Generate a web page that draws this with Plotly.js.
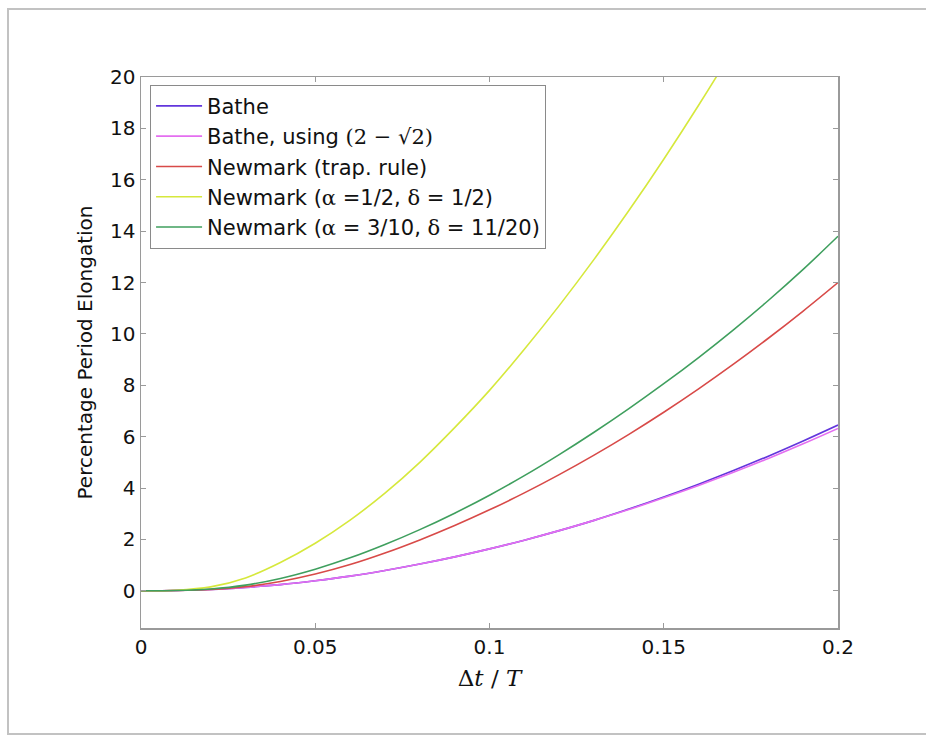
<!DOCTYPE html>
<html>
<head>
<meta charset="utf-8">
<script src="https://cdn.plot.ly/plotly-3.0.1.min.js"></script>
<style>
  html, body { margin: 0; padding: 0; background: #ffffff; overflow: hidden; }
  #wrap { position: relative; width: 926px; height: 737px; overflow: hidden; }
  #chart { position: absolute; left: 0; top: 0; width: 926px; height: 737px; }
  .edge { position: absolute; background: #c2c2c2; pointer-events: none; }
  #eTop { left: 7px; top: 8px; width: 919px; height: 2px; }
  #eLeft { left: 7px; top: 8px; width: 2px; height: 727px; }
  #eBot { left: 7px; top: 733px; width: 919px; height: 2px; }
</style>
</head>
<body>
<div id="wrap">
  <div id="chart"></div>
  <div class="edge" id="eTop"></div>
  <div class="edge" id="eLeft"></div>
  <div class="edge" id="eBot"></div>
</div>
<script>
// x values (Δt/T)
const dtT = [0, 0.01, 0.02, 0.03, 0.04, 0.05, 0.06, 0.07, 0.08, 0.09, 0.10,
             0.11, 0.12, 0.13, 0.14, 0.15, 0.16, 0.17, 0.18, 0.19, 0.20];

const batheVals     = [0, 0.01, 0.05, 0.13, 0.24, 0.39, 0.57, 0.79, 1.04, 1.32, 1.63,
                       1.97, 2.34, 2.74, 3.18, 3.65, 4.15, 4.68, 5.24, 5.83, 6.45];
const batheSqrtVals = [0, 0.01, 0.05, 0.13, 0.24, 0.39, 0.57, 0.79, 1.04, 1.32, 1.63,
                       1.97, 2.34, 2.74, 3.16, 3.62, 4.10, 4.61, 5.15, 5.72, 6.32];
const trapVals      = [0, 0.01, 0.05, 0.16, 0.36, 0.65, 1.02, 1.47, 1.98, 2.54, 3.15,
                       3.81, 4.52, 5.28, 6.09, 6.95, 7.86, 8.82, 9.83, 10.89, 12.0];
const halfVals      = [0, 0.02, 0.15, 0.5, 1.1, 1.85, 2.75, 3.8, 5.0, 6.35, 7.8,
                       9.4, 11.1, 12.9, 14.8, 16.8, 18.9, 21.1, 23.4, 25.8, 28.3];
const tenthsVals    = [0, 0.01, 0.07, 0.22, 0.48, 0.84, 1.28, 1.8, 2.38, 3.02, 3.72,
                       4.48, 5.30, 6.17, 7.09, 8.06, 9.08, 10.16, 11.30, 12.51, 13.80];

const serif = "font-family:'DejaVu Serif',serif";
const seriesNames = [
  "Bathe",
  "Bathe, using <span style=\"" + serif + "\">(2 − √2)</span>",
  "Newmark (trap. rule)",
  "Newmark (<span style=\"" + serif + "\">α</span> =1/2, <span style=\"" + serif + "\">δ</span> = 1/2)",
  "Newmark (<span style=\"" + serif + "\">α</span> = 3/10, <span style=\"" + serif + "\">δ</span> = 11/20)"
];
const seriesVals = [batheVals, batheSqrtVals, trapVals, halfVals, tenthsVals];
const seriesColors = ["#6236dc", "#e46ef0", "#d84a48", "#d6e83c", "#3f9f5e"];

const yTicks = [0, 2, 4, 6, 8, 10, 12, 14, 16, 18, 20];
const xTicks = [0, 0.05, 0.1, 0.15, 0.2];
const xTickText = ["0", "0.05", "0.1", "0.15", "0.2"];

const traces = seriesVals.map((v, i) => ({
  x: dtT, y: v, type: "scatter", mode: "lines", name: seriesNames[i],
  line: { color: seriesColors[i], width: 1.6, shape: "spline", smoothing: 1 }
}));

const sans = "DejaVu Sans, Liberation Sans, Arial, sans-serif";
const layout = {
  width: 926, height: 737,
  margin: { l: 141, r: 88, t: 77, b: 109 },
  paper_bgcolor: "#ffffff", plot_bgcolor: "#ffffff",
  font: { family: sans, size: 18, color: "#111" },
  showlegend: true,
  legend: {
    x: 0.013, y: 0.986, xanchor: "left", yanchor: "top",
    bgcolor: "#ffffff", bordercolor: "#8a8a8a", borderwidth: 1,
    font: { family: sans, size: 21, color: "#111" },
    itemwidth: 46, tracegroupgap: 0
  },
  xaxis: {
    range: [0, 0.2], tickvals: xTicks, ticktext: xTickText,
    ticks: "inside", ticklen: 5, tickcolor: "#9a9a9a",
    showline: true, linecolor: "#9a9a9a", linewidth: 1.5, mirror: "ticks",
    showgrid: false, zeroline: false,
    tickfont: { family: sans, size: 20, color: "#111" },
    title: { text: "Δ<i>t</i> / <i>T</i>", standoff: 12,
             font: { family: "DejaVu Serif, Liberation Serif, serif", size: 23, color: "#111" } }
  },
  yaxis: {
    range: [-1.45, 20], tickvals: yTicks,
    ticks: "inside", ticklen: 5, tickcolor: "#9a9a9a",
    showline: true, linecolor: "#9a9a9a", linewidth: 1.5, mirror: "ticks",
    showgrid: false, zeroline: false,
    tickfont: { family: sans, size: 20, color: "#111" },
    title: { text: "Percentage Period Elongation", standoff: 12,
             font: { family: sans, size: 20, color: "#111" } }
  }
};

Plotly.newPlot("chart", traces, layout, { displayModeBar: false, staticPlot: true });
</script>
</body>
</html>
